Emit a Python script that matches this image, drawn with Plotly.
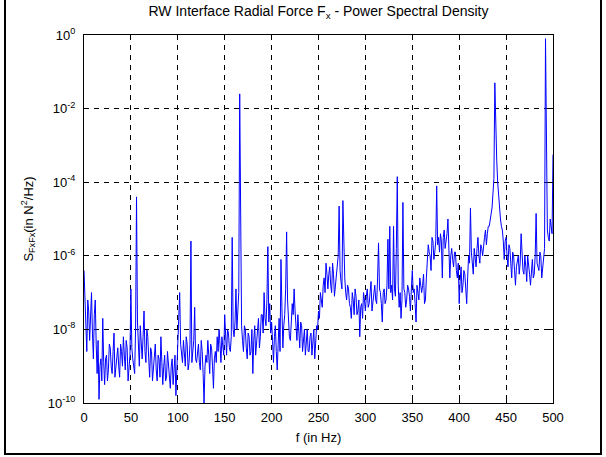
import numpy as np
import plotly.graph_objects as go

# Frequency grid (Hz), 1 Hz spacing
freq_hz = list(range(0, 501))

# log10 of PSD values (N^2/Hz); one row per 20 Hz
psd_log10 = [
    -6.4, -7.0, -7.8, -8.6, -7.2, -7.5, -8.3, -7.4, -7.0, -8.1, -8.8, -7.6, -7.2, -8.4, -9.2, -8.3, -9.9, -9.0, -8.8, -9.4,   # 0
    -7.7, -8.9, -9.5, -8.8, -8.7, -9.4, -9.1, -8.4, -8.5, -9.0, -9.2, -8.6, -8.1, -9.3, -9.0, -8.7, -8.5, -9.0, -9.3, -8.4,   # 20
    -8.6, -9.0, -8.2, -8.7, -9.1, -8.3, -8.5, -9.4, -9.0, -8.7, -6.9, -8.5, -8.8, -9.1, -9.2, -8.0, -4.4, -7.8, -8.6, -9.0,   # 40
    -7.9, -8.4, -8.8, -8.2, -7.5, -8.6, -8.9, -8.0, -8.2, -8.8, -9.3, -8.5, -8.6, -9.4, -9.0, -8.8, -8.4, -9.1, -9.4, -8.7,   # 60
    -8.8, -9.3, -8.2, -8.9, -9.5, -9.0, -8.7, -9.4, -9.3, -8.6, -8.9, -9.3, -9.6, -9.0, -8.8, -9.5, -9.2, -8.7, -9.8, -9.1,   # 80
    -8.5, -7.8, -7.0, -8.4, -8.8, -8.9, -8.3, -8.7, -9.0, -8.2, -8.4, -9.1, -8.9, -8.4, -5.6, -8.9, -8.5, -8.3, -7.4, -8.8,   # 100
    -8.9, -8.6, -8.4, -8.9, -9.1, -8.3, -8.6, -9.2, -10.0, -9.0, -8.7, -8.9, -8.3, -8.7, -9.2, -8.4, -8.5, -9.0, -9.6, -8.8,  # 120
    -8.6, -8.9, -8.2, -8.6, -8.0, -8.4, -8.9, -8.2, -8.4, -8.7, -7.6, -8.3, -8.7, -8.0, -8.1, -8.5, -8.6, -8.2, -5.5, -8.0,   # 140
    -8.2, -7.8, -6.9, -8.0, -7.6, -7.0, -1.6, -6.0, -7.9, -8.3, -8.6, -7.9, -8.0, -8.5, -8.8, -8.1, -8.2, -8.7, -8.6, -8.0,   # 160
    -9.2, -8.3, -7.9, -8.7, -8.4, -8.0, -7.7, -8.5, -8.2, -7.6, -7.6, -8.1, -7.0, -7.7, -7.9, -7.2, -5.75, -7.8, -7.3, -8.1,  # 180
    -7.8, -8.3, -8.9, -8.2, -7.9, -8.6, -9.1, -8.4, -7.7, -8.6, -6.1, -7.4, -8.5, -7.9, -7.6, -6.9, -5.35, -7.2, -7.8, -8.2,  # 200
    -8.3, -7.9, -7.3, -7.6, -6.9, -7.5, -8.0, -8.3, -7.6, -8.1, -8.5, -7.8, -7.9, -8.6, -8.3, -8.0, -8.7, -8.4, -8.0, -8.6,   # 220
    -8.6, -8.2, -8.1, -8.7, -8.4, -8.0, -8.8, -8.3, -7.9, -8.0, -7.5, -7.7, -7.0, -7.2, -7.4, -6.8, -6.6, -7.0, -6.2, -6.5,   # 240
    -6.9, -6.5, -6.3, -6.8, -7.0, -6.2, -6.5, -7.1, -6.8, -6.5, -6.3, -6.0, -4.65, -6.4, -6.7, -6.9, -4.5, -6.2, -6.6, -7.0,  # 260
    -7.2, -6.8, -6.9, -7.3, -7.4, -7.7, -7.0, -7.2, -7.6, -6.9, -7.1, -7.6, -7.5, -7.2, -8.2, -7.4, -7.3, -7.7, -7.0, -7.2,   # 280
    -7.5, -7.1, -6.9, -7.4, -7.3, -7.0, -6.7, -7.5, -7.2, -6.9, -6.8, -7.2, -7.3, -6.6, -5.65, -6.9, -7.0, -7.3, -7.8, -7.0,  # 300
    -6.9, -7.3, -7.2, -6.8, -5.55, -6.9, -5.2, -7.0, -6.8, -7.2, -5.2, -6.9, -7.1, -5.8, -3.85, -6.8, -7.4, -7.0, -7.7, -7.2, # 320
    -4.55, -6.9, -7.0, -7.4, -7.2, -6.8, -6.9, -7.1, -7.5, -6.9, -6.4, -7.0, -6.9, -7.3, -7.8, -6.8, -7.1, -7.2, -6.6, -6.9,  # 340
    -7.0, -6.8, -6.5, -7.3, -7.2, -6.6, -6.2, -5.7, -5.9, -6.0, -6.4, -5.5, -5.6, -6.1, -5.9, -5.6, -4.1, -5.7, -5.5, -5.9,   # 360
    -5.4, -5.6, -6.6, -5.5, -5.3, -5.8, -5.6, -5.4, -5.0, -5.7, -6.6, -6.0, -5.8, -6.1, -6.3, -5.9, -5.9, -6.4, -6.6, -6.2,   # 380
    -7.3, -6.7, -6.3, -7.0, -6.8, -6.4, -6.5, -6.9, -7.3, -6.6, -6.0, -6.2, -4.7, -5.9, -6.2, -6.5, -5.8, -6.1, -6.3, -5.8,   # 400
    -5.5, -6.0, -6.2, -5.7, -5.8, -6.0, -5.6, -5.5, -5.3, -5.7, -5.4, -5.2, -5.2, -5.0, -4.9, -4.7, -4.3, -3.9, -1.3, -2.6,   # 420
    -3.4, -4.0, -4.4, -4.8, -5.0, -5.2, -5.3, -5.6, -6.1, -5.6, -5.5, -6.0, -6.3, -5.7, -5.8, -6.2, -6.6, -5.9, -6.0, -6.4,   # 440
    -6.8, -6.3, -6.1, -6.0, -6.5, -6.2, -5.4, -6.0, -6.4, -6.5, -6.0, -6.3, -6.7, -6.0, -6.2, -6.5, -6.8, -6.3, -6.1, -6.6,   # 460
    -6.5, -6.0, -4.85, -6.2, -6.3, -6.4, -5.9, -6.0, -6.6, -6.3, -6.1, -5.8, -0.1, -4.0, -5.3, -5.5, -5.6, -5.0, -5.2, -5.4,  # 480
    -3.25,                                                                                                                      # 500
]
assert len(psd_log10) == len(freq_hz)

psd = [10 ** v for v in psd_log10]

x_ticks = [0, 50, 100, 150, 200, 250, 300, 350, 400, 450, 500]
y_tick_exps = [0, -2, -4, -6, -8, -10]
y_tick_vals = [10.0 ** e for e in y_tick_exps]
y_tick_text = ["10<sup>%d</sup>" % e for e in y_tick_exps]

FONT = "Liberation Sans, Arial, sans-serif"

fig = go.Figure()
fig.add_trace(go.Scatter(x=freq_hz, y=psd, mode="lines",
                         line=dict(color="#0000ff", width=1),
                         showlegend=False, hoverinfo="x+y"))

L, R, T, B = 84, 553, 35, 403
W, H = 606, 457
pw, ph = R - L, B - T

def px_x(p):
    return (p - L) / pw

def px_y(p):
    return (B - p) / ph

fig.update_layout(
    width=W, height=H,
    margin=dict(l=L, r=W - R, t=T, b=H - B, pad=0),
    paper_bgcolor="white", plot_bgcolor="white",
    font=dict(family=FONT, size=13, color="black"),
    title=dict(text="RW Interface Radial Force F<sub>x</sub> - Power Spectral Density",
               x=px_x((L + R) / 2), xanchor="center", xref="paper",
               y=1 - 11 / H, yanchor="middle", yref="container",
               font=dict(size=14, family=FONT, color="black")),
    xaxis=dict(range=[0, 500], tickvals=x_ticks, ticks="inside", ticklen=5,
               tickcolor="black", showline=True, linecolor="black", linewidth=1,
               mirror="ticks", showgrid=True, gridcolor="black", gridwidth=0.8,
               griddash="5px,5px", zeroline=False, ticklabelstandoff=2,
               title=dict(text="f (in Hz)", standoff=9, font=dict(size=13)),
               tickfont=dict(size=13)),
    yaxis=dict(type="log", range=[-10, 0], tickvals=y_tick_vals, ticktext=y_tick_text,
               ticks="inside", ticklen=5, tickcolor="black", showline=True,
               linecolor="black", linewidth=1, mirror="ticks", showgrid=True,
               gridcolor="black", gridwidth=0.8, griddash="5px,5px", zeroline=False,
               ticklabelstandoff=5,
               title=dict(text="S<sub>FxFx</sub>(in N<sup>2</sup>/Hz)", standoff=11,
                          font=dict(size=13)),
               tickfont=dict(size=13)),
    shapes=[dict(type="rect", xref="paper", yref="paper",
                 x0=px_x(5), x1=px_x(601), y0=px_y(454), y1=px_y(-2),
                 line=dict(color="black", width=2), fillcolor="rgba(0,0,0,0)",
                 layer="below")],
)

fig.write_html("out.html")
